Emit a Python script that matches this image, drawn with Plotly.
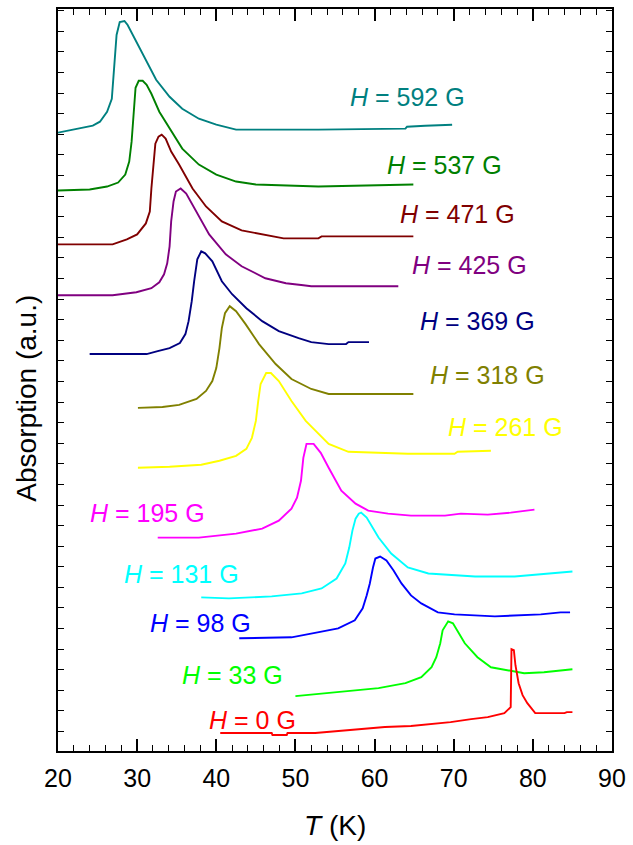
import plotly.graph_objects as go

# Temperatures (K) and absorption (a.u., vertically offset curves)
T_592 = [20.0, 21.9, 24.4, 25.3, 26.2, 26.8, 27.2, 27.4, 27.8, 28.4, 28.8, 29.9, 31.2, 32.4, 34.1, 35.7, 37.8, 40.0, 42.5, 47.0, 52.9, 63.9, 64.1, 66.4, 69.8]
A_592 = [620, 623, 627, 631, 641, 654, 691, 718, 731, 732, 728, 711, 691, 673, 656, 644, 634, 628, 623, 623, 623, 624, 626, 627, 628]

T_537 = [20.0, 24.0, 26.2, 27.6, 28.5, 29.0, 29.3, 29.6, 29.8, 30.2, 30.7, 31.2, 31.8, 32.8, 34.1, 35.7, 37.8, 40.0, 42.5, 45.0, 52.9, 64.9]
A_537 = [562, 563, 566, 570, 578, 591, 611, 646, 665, 672, 672, 668, 659, 641, 624, 604, 588, 578, 571, 568, 566, 568]

T_471 = [20.0, 26.9, 28.7, 30.0, 31.1, 31.6, 31.8, 32.1, 32.3, 32.7, 33.1, 33.6, 34.3, 35.3, 37.0, 38.7, 40.7, 43.2, 46.6, 48.5, 52.9, 53.3, 64.9]
A_471 = [508, 508, 513, 518, 529, 541, 564, 593, 609, 616, 618, 614, 601, 588, 564, 546, 531, 522, 517, 514, 514, 516, 516]

T_425 = [20.0, 26.9, 29.9, 31.8, 32.8, 33.4, 33.8, 34.1, 34.3, 34.6, 34.9, 35.5, 36.2, 37.5, 39.1, 41.2, 43.2, 46.2, 48.8, 51.0, 52.0, 63.0]
A_425 = [457, 457, 460, 464, 470, 478, 489, 506, 531, 551, 561, 564, 559, 541, 518, 498, 486, 474, 469, 467, 466, 466]

T_369 = [24.0, 31.2, 32.6, 34.1, 35.4, 36.1, 36.5, 36.9, 37.2, 37.6, 38.1, 38.6, 39.5, 40.7, 42.0, 43.8, 45.8, 47.9, 50.4, 52.0, 54.2, 56.4, 56.7, 59.3]
A_369 = [398, 398, 401, 404, 409, 418, 431, 451, 471, 493, 501, 499, 491, 471, 458, 444, 431, 421, 414, 410, 408, 408, 410, 410]

T_318 = [30.1, 33.2, 35.3, 37.5, 38.7, 39.5, 40.0, 40.4, 40.7, 41.1, 41.7, 42.5, 43.7, 45.4, 47.5, 49.5, 52.0, 54.2, 64.9]
A_318 = [344, 345, 347, 353, 361, 371, 384, 404, 424, 439, 446, 441, 428, 408, 388, 373, 363, 358, 358]

T_261 = [30.1, 34.1, 38.1, 40.4, 42.5, 43.8, 44.5, 45.0, 45.3, 45.6, 46.3, 46.9, 47.9, 49.5, 51.3, 52.9, 54.2, 56.7, 64.2, 70.1, 70.5, 74.7]
A_261 = [284, 285, 287, 291, 296, 303, 314, 331, 351, 368, 379, 379, 371, 351, 331, 318, 308, 300, 298, 298, 300, 301]

T_195 = [32.6, 37.8, 42.5, 45.8, 47.9, 49.5, 50.2, 50.7, 51.0, 51.4, 52.3, 53.2, 54.2, 55.8, 57.6, 59.2, 61.7, 64.6, 68.9, 70.9, 74.3, 77.2, 80.2]
A_195 = [214, 214, 218, 223, 231, 243, 254, 271, 294, 308, 308, 299, 284, 261, 248, 241, 238, 236, 236, 238, 237, 239, 242]

T_131 = [38.1, 41.6, 47.0, 50.8, 53.3, 55.2, 56.3, 56.8, 57.2, 57.6, 58.0, 58.3, 59.0, 60.5, 62.1, 64.2, 66.8, 72.7, 77.7, 81.0, 83.1, 85.0]
A_131 = [154, 153, 155, 158, 163, 173, 188, 204, 221, 233, 238, 239, 234, 214, 198, 184, 178, 175, 175, 177, 179, 180]

T_98 = [42.9, 49.5, 52.8, 55.4, 57.5, 58.5, 59.0, 59.4, 59.8, 60.1, 60.7, 61.5, 62.4, 63.4, 64.6, 65.9, 68.0, 70.1, 75.2, 81.0, 83.5, 84.7]
A_98 = [113, 114, 119, 123, 131, 143, 156, 168, 184, 193, 195, 191, 181, 168, 156, 148, 139, 137, 135, 137, 139, 139]

T_33 = [50.0, 55.1, 60.5, 63.9, 65.9, 67.2, 67.8, 68.3, 68.6, 69.3, 69.9, 71.4, 73.0, 74.7, 77.2, 78.9, 81.4, 83.5, 85.0]
A_33 = [55, 59, 63, 68, 74, 84, 94, 108, 121, 130, 128, 108, 94, 84, 80, 78, 79, 81, 82]

T_0 = [40.5, 47.0, 47.1, 48.9, 49.0, 52.5, 56.9, 61.3, 64.6, 67.1, 69.6, 72.2, 74.3, 76.4, 77.2, 77.3, 77.6, 77.8, 78.2, 78.7, 79.3, 80.3, 84.0, 84.3, 85.0]
A_0 = [18, 18, 16, 16, 18, 18, 21, 24, 25, 27, 29, 32, 34, 38, 44, 102, 101, 86, 68, 56, 48, 38, 38, 39, 39]

fields = ["592", "537", "471", "425", "369", "318", "261", "195", "131", "98", "33", "0"]
colors = ["#008080", "#008000", "#800000", "#800080", "#000080", "#808000",
          "#FFFF00", "#FF00FF", "#00FFFF", "#0000FF", "#00FF00", "#FF0000"]
temps = [T_592, T_537, T_471, T_425, T_369, T_318, T_261, T_195, T_131, T_98, T_33, T_0]
absorb = [A_592, A_537, A_471, A_425, A_369, A_318, A_261, A_195, A_131, A_98, A_33, A_0]

# label anchor positions (T, absorption)
label_T = [64.2, 68.8, 70.5, 72.0, 73.0, 74.3, 76.6, 31.3, 35.6, 38.0, 42.0, 44.6]
label_A = [656, 588, 538, 487, 431, 377, 325, 239, 177, 128, 76, 31]

fig = go.Figure()
for H, c, t, a in zip(fields, colors, temps, absorb):
    fig.add_trace(go.Scatter(x=t, y=a, mode="lines", line=dict(color=c, width=1.9),
                             name=f"H = {H} G", showlegend=False))

font_family = "Liberation Sans, Arial, sans-serif"
for H, c, lt, la in zip(fields, colors, label_T, label_A):
    fig.add_annotation(x=lt, y=la, xref="x", yref="y", text=f"<i>H</i> = {H} G",
                       showarrow=False, font=dict(family=font_family, size=25, color=c),
                       xanchor="center", yanchor="middle")

fig.add_annotation(x=0.5, y=-0.1008, xref="paper", yref="paper", text="<i>T</i> (K)",
                   showarrow=False, font=dict(family=font_family, size=28, color="black"),
                   xanchor="center", yanchor="middle")
fig.add_annotation(x=-0.0575, y=0.475, xref="paper", yref="paper", text="Absorption (a.u.)",
                   showarrow=False, textangle=-90,
                   font=dict(family=font_family, size=28, color="black"),
                   xanchor="center", yanchor="middle")

fig.update_xaxes(range=[20, 90], tick0=20, dtick=10, ticks="inside", ticklen=12, tickwidth=1.5,
                 tickcolor="black", showline=True, linecolor="black", linewidth=2, mirror="ticks",
                 showgrid=False, zeroline=False, ticklabelstandoff=4,
                 tickfont=dict(family=font_family, size=25, color="black"),
                 minor=dict(dtick=2, ticks="inside", ticklen=6, tickwidth=1.2, tickcolor="black",
                            showgrid=False))
fig.update_yaxes(range=[0, 744], tick0=19.5, dtick=20.65, ticks="inside", ticklen=6, tickwidth=1.2,
                 tickcolor="black", showline=True, linecolor="black", linewidth=2, mirror="ticks",
                 showgrid=False, zeroline=False, showticklabels=False)

fig.update_layout(width=633, height=845, margin=dict(l=58, r=18, t=7, b=94),
                  plot_bgcolor="white", paper_bgcolor="white",
                  font=dict(family=font_family))

fig.write_html("out.html")
